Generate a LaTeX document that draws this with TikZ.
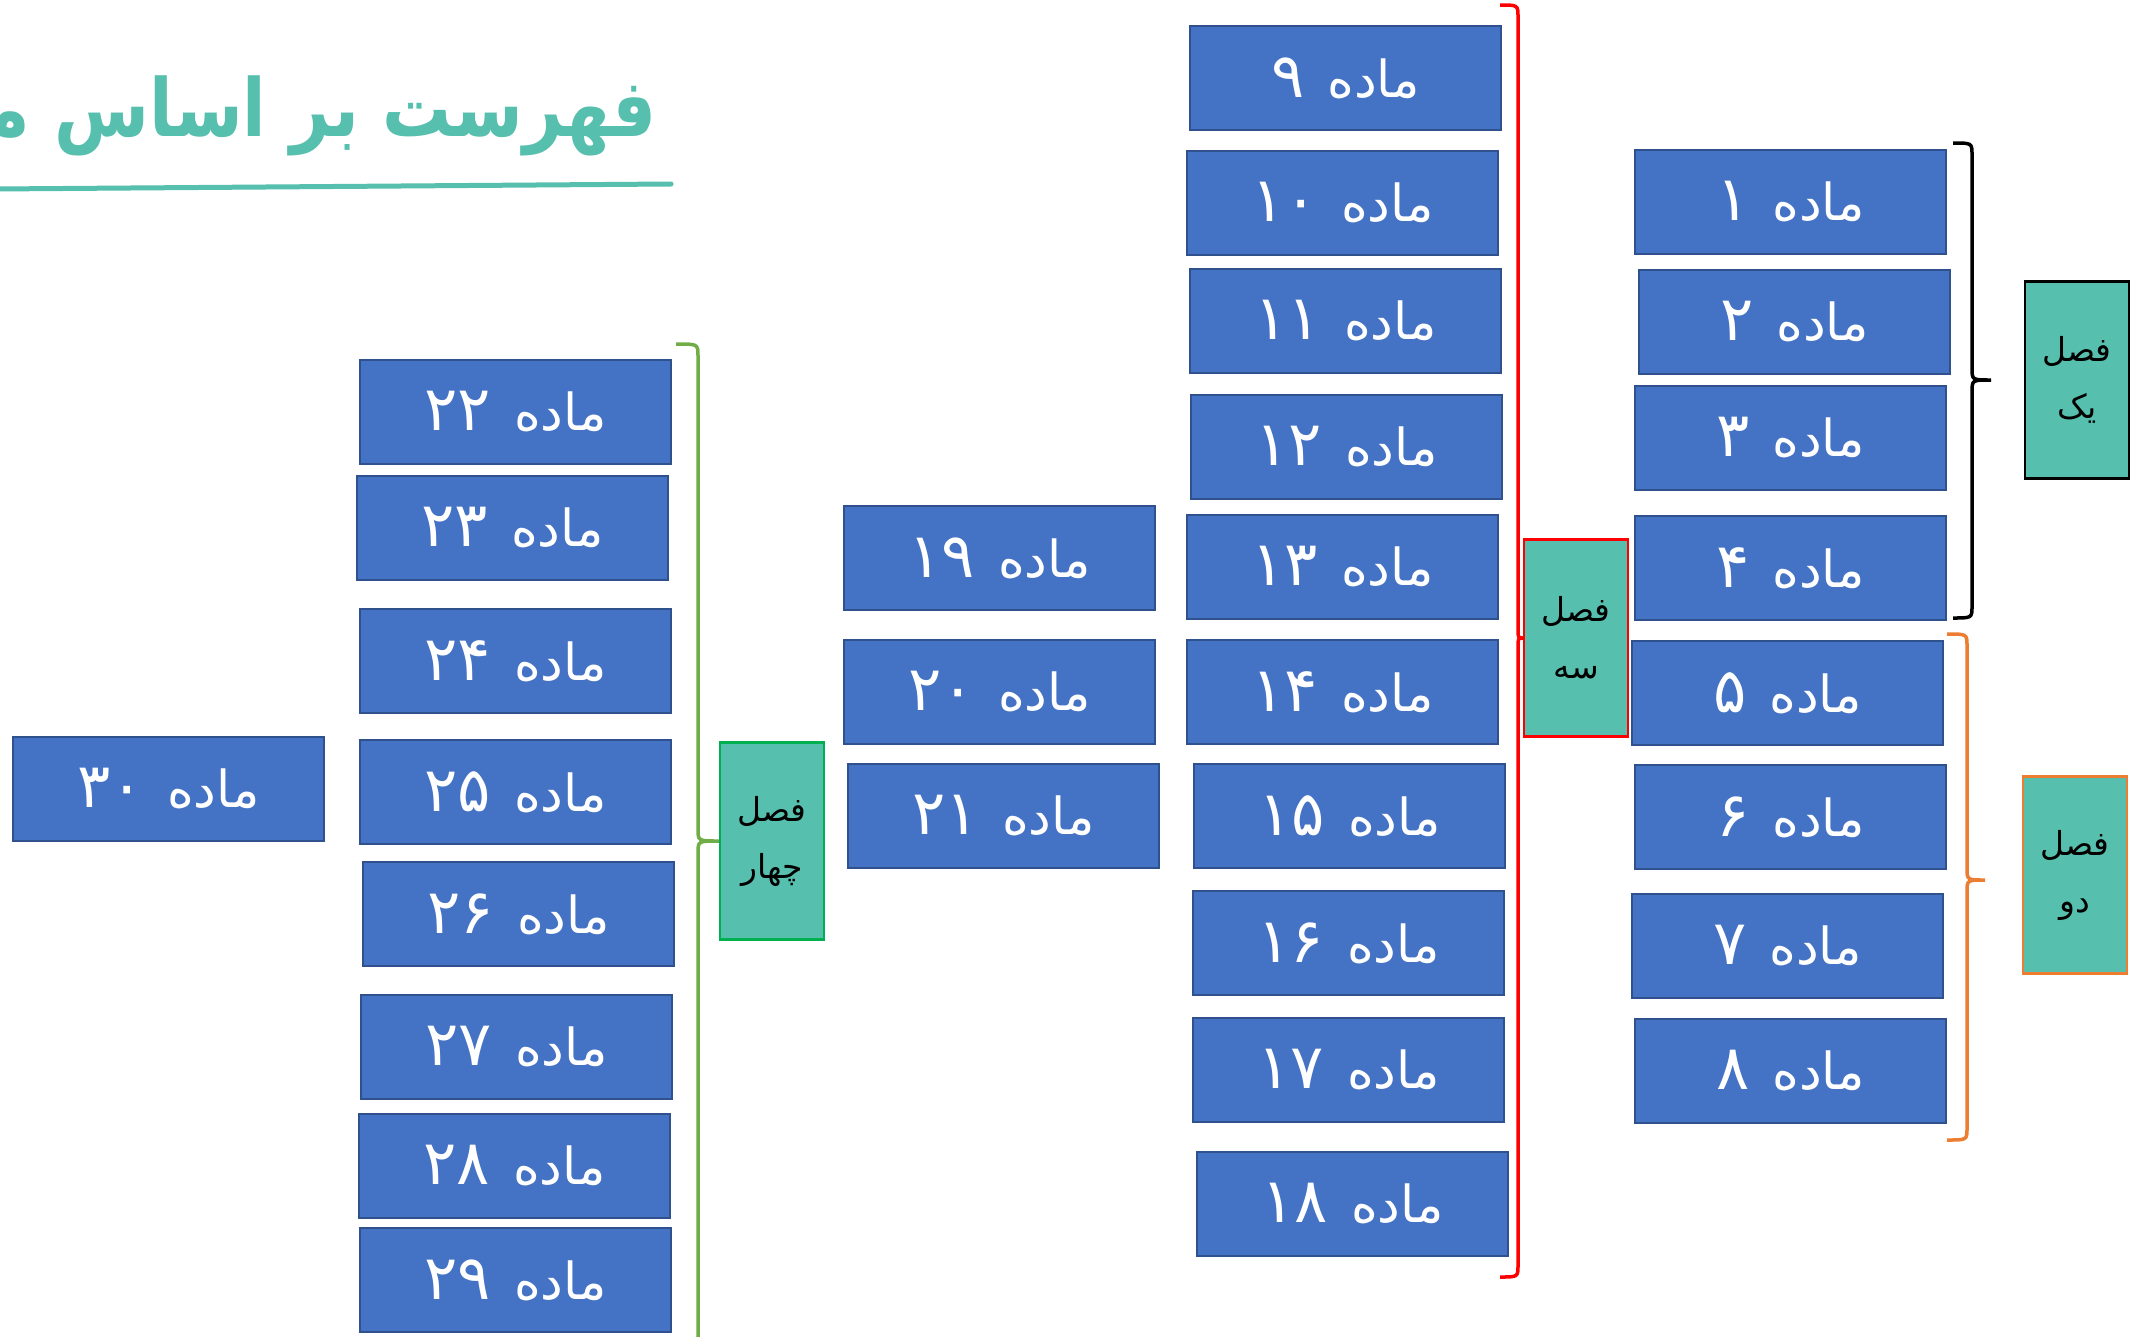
\documentclass[tikz,border=0pt]{standalone}
\usepackage{fontspec}
\newfontfamily\arabicfont[Script=Arabic]{DejaVu Sans}
\newfontfamily\titlefont[Script=Arabic,FakeStretch=0.86]{DejaVu Sans}
\TeXXeTstate=1
\definecolor{boxblue}{HTML}{4472C4}
\definecolor{boxedge}{HTML}{2F528F}
\definecolor{chapteal}{HTML}{56BFAE}
\definecolor{bracegreen}{HTML}{70AD47}
\definecolor{braceorange}{HTML}{ED7D31}
\definecolor{boxgreen}{HTML}{00B050}
\tikzset{
  maddebox/.style={draw=boxedge, line width=2pt, fill=boxblue, minimum width=311pt, minimum height=104pt,
    inner sep=0pt, anchor=north west, text=white, font=\arabicfont\fontsize{51}{56}\selectfont},
  chapbox/.style={fill=chapteal, line width=2.5pt, minimum width=104pt, minimum height=197pt, inner sep=0pt,
    align=center, text=black, font=\arabicfont\fontsize{33}{57}\selectfont},
  bracestroke/.style={line width=3.5pt},
}
\newcommand\madde[4]{\node[maddebox] (#1) at (#2,#3) {\beginR ماده\hskip0.45em\beginL{\fontsize{62}{56}\selectfont #4}\endL\endR};}
\begin{document}
\begin{tikzpicture}[x=1pt,y=-1pt]
\useasboundingbox (0,0) rectangle (2133,1336);
% title
\begin{scope}
\clip (0,0) rectangle (2133,1336);
\node[anchor=base east, inner sep=0pt, text=chapteal, font=\titlefont\bfseries\fontsize{80}{90}\selectfont] (title) at (657,136) {\beginR فهرست بر اساس ماده\endR};
\end{scope}
\coordinate (ulA) at (-5,189);
\coordinate (ulB) at (671,184);
\draw[chapteal, line width=5pt, line cap=round] (ulA) -- (ulB);
% column 1
\madde{m1}{1634}{149}{۱}
\madde{m2}{1638}{269}{۲}
\madde{m3}{1634}{385}{۳}
\madde{m4}{1634}{515}{۴}
\madde{m5}{1631}{640}{۵}
\madde{m6}{1634}{764}{۶}
\madde{m7}{1631}{893}{۷}
\madde{m8}{1634}{1018}{۸}
% column 2
\madde{m9}{1189}{25}{۹}
\madde{m10}{1186}{150}{۱۰}
\madde{m11}{1189}{268}{۱۱}
\madde{m12}{1190}{394}{۱۲}
\madde{m13}{1186}{514}{۱۳}
\madde{m14}{1186}{639}{۱۴}
\madde{m15}{1193}{763}{۱۵}
\madde{m16}{1192}{890}{۱۶}
\madde{m17}{1192}{1017}{۱۷}
\madde{m18}{1196}{1151}{۱۸}
% column 3
\madde{m19}{843}{505}{۱۹}
\madde{m20}{843}{639}{۲۰}
\madde{m21}{847}{763}{۲۱}
% column 4
\madde{m22}{359}{359}{۲۲}
\madde{m23}{356}{475}{۲۳}
\madde{m24}{359}{608}{۲۴}
\madde{m25}{359}{739}{۲۵}
\madde{m26}{362}{861}{۲۶}
\madde{m27}{360}{994}{۲۷}
\madde{m28}{358}{1113}{۲۸}
\madde{m29}{359}{1227}{۲۹}
\madde{m30}{12}{736}{۳۰}
% chapter boxes
\node[chapbox, draw=black] (s1) at (2077,380) {\beginR فصل\endR\\\beginR یک\endR};
\node[chapbox, draw=braceorange] (s2) at (2075,875) {\beginR فصل\endR\\\beginR دو\endR};
\node[chapbox, draw=red] (s3) at (1576,638) {\beginR فصل\endR\\\beginR سه\endR};
\node[chapbox, draw=boxgreen] (s4) at (772,841) {\beginR فصل\endR\\\beginR چهار\endR};
% braces
\coordinate (t1) at (1991,380);
\draw[bracestroke, black] (1953,143) .. controls (1972,143) .. (1972,155) -- (1972,368) .. controls (1972,380) .. (t1) .. controls (1972,380) .. (1972,392) -- (1972,606) .. controls (1972,618) .. (1953,618);
\coordinate (t2) at (1985,880);
\draw[bracestroke, braceorange] (1947,634) .. controls (1967,634) .. (1967,646) -- (1967,868) .. controls (1967,880) .. (t2) .. controls (1967,880) .. (1967,892) -- (1967,1128) .. controls (1967,1140) .. (1947,1140);
\draw[bracestroke, red] (1500,5) .. controls (1518,5) .. (1518,17) -- (1518,626) .. controls (1518,638) .. (s3.west) .. controls (1518,638) .. (1518,650) -- (1518,1265) .. controls (1518,1277) .. (1500,1277);
\draw[bracestroke, bracegreen] (676,344) .. controls (698,344) .. (698,356) -- (698,829) .. controls (698,841) .. (s4.west) .. controls (698,841) .. (698,853) -- (698,1345);
\end{tikzpicture}
\end{document}
